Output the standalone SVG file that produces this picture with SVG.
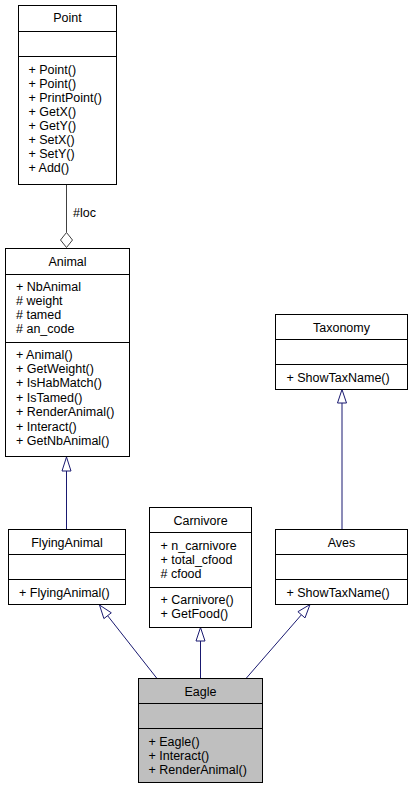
<svg xmlns="http://www.w3.org/2000/svg" width="413" height="789" viewBox="0 0 413 789">
<style>
.box{fill:#fff;stroke:#000;stroke-width:1}
.hl{fill:#bfbfbf}
.sep{stroke:#000;stroke-width:1}
text{font-family:"Liberation Sans",Arial,sans-serif;font-size:12.5px;fill:#000}
.t{text-anchor:middle}
.e{stroke:#191970;stroke-width:1;fill:none}
.ah{stroke:#191970;stroke-width:1;fill:#fff}
.u{stroke:#404040;stroke-width:1;fill:none}
.ud{stroke:#404040;stroke-width:1;fill:#fff}
</style>
<rect width="413" height="789" fill="#fff"/>
<g id="connectors">
  <line class="u" x1="66.5" y1="184.5" x2="66.5" y2="232.5"/>
  <polygon class="ud" points="66.5,232.5 72.5,240 66.5,247.5 60.5,240"/>
  <text x="73" y="217">#loc</text>
  <line class="e" x1="66.5" y1="471" x2="66.5" y2="529.5"/>
  <polygon class="ah" points="66.5,457 62,471 71,471"/>
  <line class="e" x1="342" y1="403" x2="342" y2="529.5"/>
  <polygon class="ah" points="342,389.5 337.5,403 346.5,403"/>
  <line class="e" x1="200.5" y1="641" x2="200.5" y2="678.5"/>
  <polygon class="ah" points="200.5,627.5 196,641 205,641"/>
  <line class="e" x1="107.6" y1="615.7" x2="157" y2="678.5"/>
  <polygon class="ah" points="99.5,605 111.3,612.8 103.9,618.6"/>
  <line class="e" x1="301.4" y1="614.8" x2="246" y2="678.5"/>
  <polygon class="ah" points="310,604.5 305,617.9 297.9,611.7"/>
</g>
<g id="Point">
  <rect class="box" x="18.5" y="5.5" width="98" height="179"/>
  <line class="sep" x1="18.5" y1="31.5" x2="116.5" y2="31.5"/>
  <line class="sep" x1="18.5" y1="56.5" x2="116.5" y2="56.5"/>
  <text class="t" x="67.5" y="22">Point</text>
  <text x="28.5" y="73.5">+ Point()</text>
  <text x="28.5" y="87.6">+ Point()</text>
  <text x="28.5" y="101.7">+ PrintPoint()</text>
  <text x="28.5" y="115.8">+ GetX()</text>
  <text x="28.5" y="129.9">+ GetY()</text>
  <text x="28.5" y="144">+ SetX()</text>
  <text x="28.5" y="158.1">+ SetY()</text>
  <text x="28.5" y="172.2">+ Add()</text>
</g>
<g id="Animal">
  <rect class="box" x="5.5" y="248.5" width="124" height="208"/>
  <line class="sep" x1="5.5" y1="274.5" x2="129.5" y2="274.5"/>
  <line class="sep" x1="5.5" y1="342.5" x2="129.5" y2="342.5"/>
  <text class="t" x="67.5" y="265.5">Animal</text>
  <text x="16" y="290.5">+ NbAnimal</text>
  <text x="16" y="304.6"># weight</text>
  <text x="16" y="318.7"># tamed</text>
  <text x="16" y="332.8"># an_code</text>
  <text x="16" y="358.5">+ Animal()</text>
  <text x="16" y="372.9">+ GetWeight()</text>
  <text x="16" y="387.3">+ IsHabMatch()</text>
  <text x="16" y="401.7">+ IsTamed()</text>
  <text x="16" y="416.1">+ RenderAnimal()</text>
  <text x="16" y="430.5">+ Interact()</text>
  <text x="16" y="444.9">+ GetNbAnimal()</text>
</g>
<g id="Taxonomy">
  <rect class="box" x="275.5" y="314.5" width="132" height="75"/>
  <line class="sep" x1="275.5" y1="339.5" x2="407.5" y2="339.5"/>
  <line class="sep" x1="275.5" y1="364.5" x2="407.5" y2="364.5"/>
  <text class="t" x="341.5" y="331.5">Taxonomy</text>
  <text x="286.5" y="381.5">+ ShowTaxName()</text>
</g>
<g id="FlyingAnimal">
  <rect class="box" x="8.5" y="529.5" width="117" height="75"/>
  <line class="sep" x1="8.5" y1="554.5" x2="125.5" y2="554.5"/>
  <line class="sep" x1="8.5" y1="579.5" x2="125.5" y2="579.5"/>
  <text class="t" x="67" y="546.5">FlyingAnimal</text>
  <text x="19" y="596.5">+ FlyingAnimal()</text>
</g>
<g id="Carnivore">
  <rect class="box" x="149.5" y="507.5" width="102" height="120"/>
  <line class="sep" x1="149.5" y1="532.5" x2="251.5" y2="532.5"/>
  <line class="sep" x1="149.5" y1="587.5" x2="251.5" y2="587.5"/>
  <text class="t" x="200.5" y="524.5">Carnivore</text>
  <text x="160.5" y="549.5">+ n_carnivore</text>
  <text x="160.5" y="563.8">+ total_cfood</text>
  <text x="160.5" y="578.1"># cfood</text>
  <text x="160.5" y="604">+ Carnivore()</text>
  <text x="160.5" y="618.3">+ GetFood()</text>
</g>
<g id="Aves">
  <rect class="box" x="275.5" y="529.5" width="132" height="75"/>
  <line class="sep" x1="275.5" y1="554.5" x2="407.5" y2="554.5"/>
  <line class="sep" x1="275.5" y1="579.5" x2="407.5" y2="579.5"/>
  <text class="t" x="341.5" y="546.5">Aves</text>
  <text x="286.5" y="596.5">+ ShowTaxName()</text>
</g>
<g id="Eagle">
  <rect class="box hl" x="138.5" y="678.5" width="124" height="104"/>
  <line class="sep" x1="138.5" y1="703.5" x2="262.5" y2="703.5"/>
  <line class="sep" x1="138.5" y1="728.5" x2="262.5" y2="728.5"/>
  <text class="t" x="200.5" y="695.5">Eagle</text>
  <text x="148.5" y="745.5">+ Eagle()</text>
  <text x="148.5" y="759.8">+ Interact()</text>
  <text x="148.5" y="774.1">+ RenderAnimal()</text>
</g>
</svg>
